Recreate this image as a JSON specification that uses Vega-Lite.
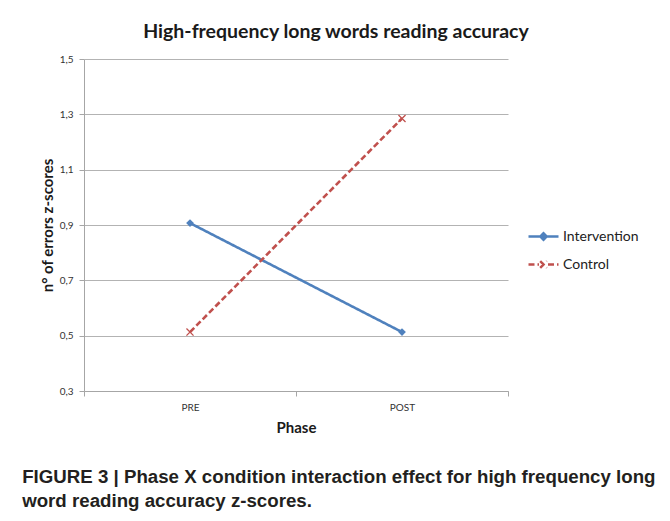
{
  "$schema": "https://vega.github.io/schema/vega-lite/v6.json",
  "background": "white",
  "padding": {"left": 22, "top": 21, "right": 10, "bottom": 8},
  "title": {
    "text": ["FIGURE 3 | Phase X condition interaction effect for high frequency long", "word reading accuracy z-scores."],
    "orient": "bottom",
    "anchor": "start",
    "font": "Liberation Sans",
    "fontSize": 18.7,
    "fontWeight": "bold",
    "color": "#231f20",
    "lineHeight": 24,
    "offset": 33,
    "dx": -18
  },
  "data": {
    "values": [
      {"Phase": "PRE", "Condition": "Intervention", "z": 0.907},
      {"Phase": "POST", "Condition": "Intervention", "z": 0.513},
      {"Phase": "PRE", "Condition": "Control", "z": 0.513},
      {"Phase": "POST", "Condition": "Control", "z": 1.285}
    ]
  },
  "vconcat": [
    {
      "width": 424,
      "height": 332,
      "title": {
        "text": "High-frequency long words reading accuracy",
        "font": "Lato",
        "fontSize": 19.5,
        "fontWeight": "bold",
        "color": "#1a1a1a",
        "anchor": "middle",
        "dx": 40,
        "offset": 12
      },
      "encoding": {
        "x": {
          "field": "Phase",
          "type": "nominal",
          "sort": ["PRE", "POST"],
          "scale": {"paddingInner": 0, "paddingOuter": 0},
          "axis": {
            "title": "Phase",
            "labelAngle": 0,
            "labelFont": "Lato",
            "labelFontSize": 10,
            "labelColor": "#333333",
            "labelPadding": 6,
            "titleFont": "Lato",
            "titleFontSize": 15,
            "titleFontWeight": "bold",
            "titleColor": "#1a1a1a",
            "titlePadding": 8,
            "domainColor": "#a6a6a6",
            "tickColor": "#a6a6a6",
            "tickBand": "extent",
            "tickSize": 5,
            "grid": false
          }
        },
        "y": {
          "field": "z",
          "type": "quantitative",
          "scale": {"domain": [0.3, 1.5], "nice": false, "zero": false},
          "axis": {
            "title": "n° of errors z-scores",
            "values": [0.3, 0.5, 0.7, 0.9, 1.1, 1.3, 1.5],
            "labelExpr": "replace(format(datum.value, '.1f'), '.', ',')",
            "labelFont": "Lato",
            "labelFontSize": 10,
            "labelColor": "#333333",
            "labelPadding": 6,
            "titleFont": "Lato",
            "titleFontSize": 15,
            "titleFontWeight": "bold",
            "titleColor": "#1a1a1a",
            "titlePadding": 4,
            "domainColor": "#a6a6a6",
            "tickColor": "#a6a6a6",
            "tickSize": 5,
            "gridColor": "#b3b3b3",
            "gridOpacity": 1
          }
        }
      },
      "layer": [
        {
          "mark": {"type": "line", "strokeWidth": 2.6},
          "encoding": {
            "color": {
              "field": "Condition",
              "type": "nominal",
              "scale": {"domain": ["Intervention", "Control"], "range": ["#4F81BD", "#C0504D"]},
              "legend": {
                "title": null,
                "orient": "none",
                "legendX": 443,
                "legendY": 161,
                "padding": 0,
                "labelFont": "Lato",
                "labelFontSize": 14,
                "labelColor": "#222222",
                "labelOffset": 3,
                "rowPadding": 3,
                "symbolSize": 900,
                "symbolStrokeWidth": 2.4,
                "symbolType": "M-1,0L1,0",
                "encoding": {
                  "symbols": {
                    "shape": {"value": {"expr": "datum.value === 'Intervention' ? 'M-1,0L1,0M0,-0.22L0.22,0L0,0.22L-0.22,0Z' : 'M-1,0L-0.3,0M0.3,0L1,0M-0.22,-0.22L0.22,0.22M-0.22,0.22L0.22,-0.22'"}},
                    "fill": {"value": {"expr": "datum.value === 'Intervention' ? '#4F81BD' : 'transparent'"}}
                  }
                }
              }
            },
            "strokeDash": {
              "field": "Condition",
              "type": "nominal",
              "scale": {"domain": ["Intervention", "Control"], "range": [[1, 0], [6, 3]]},
              "legend": null
            }
          }
        },
        {
          "transform": [{"filter": "datum.Condition === 'Intervention'"}],
          "mark": {"type": "point", "shape": "diamond", "filled": true, "size": 60, "color": "#4F81BD", "opacity": 1},
          "encoding": {}
        },
        {
          "transform": [{"filter": "datum.Condition === 'Control'"}],
          "mark": {"type": "point", "shape": "M-1,-1L1,1M-1,1L1,-1", "filled": false, "size": 50, "color": "#C0504D", "strokeWidth": 1.3, "opacity": 1},
          "encoding": {}
        }
      ]
    }
  ],
  "config": {
    "view": {"stroke": null}
  }
}
